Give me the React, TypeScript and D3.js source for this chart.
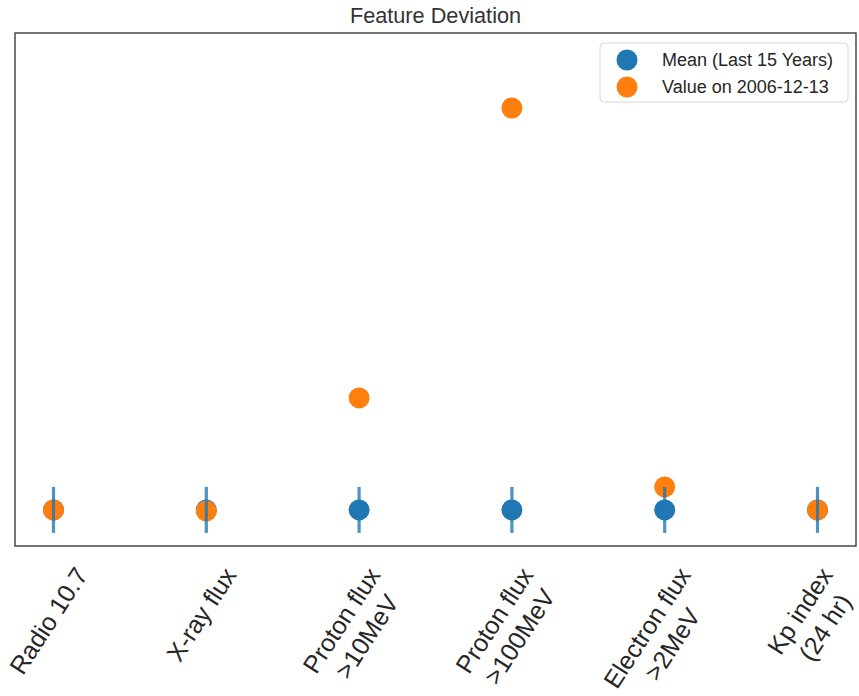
import React, { useEffect, useRef } from "react";
import * as d3 from "d3";

const features = [
  "Radio 10.7",
  "X-ray flux",
  "Proton flux\n>10MeV",
  "Proton flux\n>100MeV",
  "Electron flux\n>2MeV",
  "Kp index\n(24 hr)",
];
const meanValues = [0, 0, 0, 0, 0, 0];
const stdValues = [1, 1, 1, 1, 1, 1];
const currentValues = [0, -0.05, 4.87, 17.48, 1.0, 0];
const yLimits = [-1.57, 20.74];
const legendLabels = ["Mean (Last 15 Years)", "Value on 2006-12-13"];

const W = 859;
const H = 696;
const FONT = "Liberation Sans, Arial, sans-serif";
const BLUE = "#1f77b4";
const ORANGE = "#ff7f0e";

export default function App() {
  const ref = useRef<SVGSVGElement>(null);

  useEffect(() => {
    const margin = { left: 15, right: 3, top: 33, bottom: 150 };
    const svg = d3.select(ref.current);
    svg.selectAll("*").remove();

    const x = d3.scalePoint<string>()
      .domain(features)
      .range([margin.left, W - margin.right])
      .padding(0.252);

    const y = d3.scaleLinear()
      .domain(yLimits)
      .range([H - margin.bottom, margin.top]);

    // title
    svg.append("text")
      .attr("x", (margin.left + W - margin.right) / 2)
      .attr("y", 23)
      .attr("text-anchor", "middle")
      .attr("font-family", FONT)
      .attr("font-size", 21.7)
      .attr("fill", "#333333")
      .text("Feature Deviation");

    // mean points
    svg.selectAll(".mean")
      .data(features)
      .enter()
      .append("circle")
      .attr("class", "mean")
      .attr("cx", d => x(d)!)
      .attr("cy", (d, i) => y(meanValues[i]))
      .attr("r", 10.5)
      .attr("fill", BLUE);

    // current values
    svg.selectAll(".current")
      .data(features)
      .enter()
      .append("circle")
      .attr("class", "current")
      .attr("cx", d => x(d)!)
      .attr("cy", (d, i) => y(currentValues[i]))
      .attr("r", 10.5)
      .attr("fill", ORANGE);

    // error bars
    svg.selectAll(".err")
      .data(features)
      .enter()
      .append("line")
      .attr("class", "err")
      .attr("x1", d => x(d)!)
      .attr("x2", d => x(d)!)
      .attr("y1", (d, i) => y(meanValues[i] - stdValues[i]))
      .attr("y2", (d, i) => y(meanValues[i] + stdValues[i]))
      .attr("stroke", BLUE)
      .attr("stroke-opacity", 0.8)
      .attr("stroke-width", 3.2);

    // frame
    svg.append("rect")
      .attr("x", margin.left)
      .attr("y", margin.top)
      .attr("width", W - margin.right - margin.left)
      .attr("height", H - margin.bottom - margin.top)
      .attr("fill", "none")
      .attr("stroke", "#3d3d3d")
      .attr("stroke-width", 1.4);

    // tick labels, rotated, bbox centred on tick like matplotlib
    const fs = 25;
    const lh = fs * 1.2;
    const theta = 57;
    const rad = theta * Math.PI / 180;
    const labelTop = H - margin.bottom + 16;
    features.forEach(f => {
      const lines = f.split("\n");
      const t = svg.append("text")
        .attr("font-family", FONT)
        .attr("font-size", fs)
        .attr("fill", "#262626")
        .attr("text-anchor", "middle");
      const blockH = lines.length * lh;
      const spans = lines.map((ln, i) =>
        t.append("tspan")
          .attr("x", 0)
          .attr("y", i * lh - blockH / 2 + lh / 2 + 0.35 * fs)
          .text(ln)
      );
      const L = d3.max(spans, s => (s.node() as SVGTSpanElement).getComputedTextLength()) || 0;
      const bh = L * Math.sin(rad) + blockH * Math.cos(rad);
      const cx = x(f)! - 5;
      const cy = labelTop + bh / 2;
      t.attr("transform", `translate(${cx},${cy}) rotate(${-theta})`);
    });

    // legend
    const lg = svg.append("g");
    lg.append("rect")
      .attr("x", 600)
      .attr("y", 43)
      .attr("width", 248)
      .attr("height", 59)
      .attr("rx", 4)
      .attr("fill", "white")
      .attr("fill-opacity", 0.8)
      .attr("stroke", "#d6d6d6")
      .attr("stroke-width", 1);
    const legendY = d3.scalePoint<string>().domain(legendLabels).range([60, 87]);
    [BLUE, ORANGE].forEach((c, i) => {
      lg.append("circle")
        .attr("cx", 627)
        .attr("cy", legendY(legendLabels[i])!)
        .attr("r", 10.5)
        .attr("fill", c);
      lg.append("text")
        .attr("x", 662)
        .attr("y", legendY(legendLabels[i])! + 6.4)
        .attr("font-family", FONT)
        .attr("font-size", 18)
        .attr("fill", "#262626")
        .text(legendLabels[i]);
    });
  }, []);

  return (
    <svg
      ref={ref}
      width={W}
      height={H}
      style={{ position: "absolute", left: 0, top: 0, background: "white" }}
    />
  );
}
